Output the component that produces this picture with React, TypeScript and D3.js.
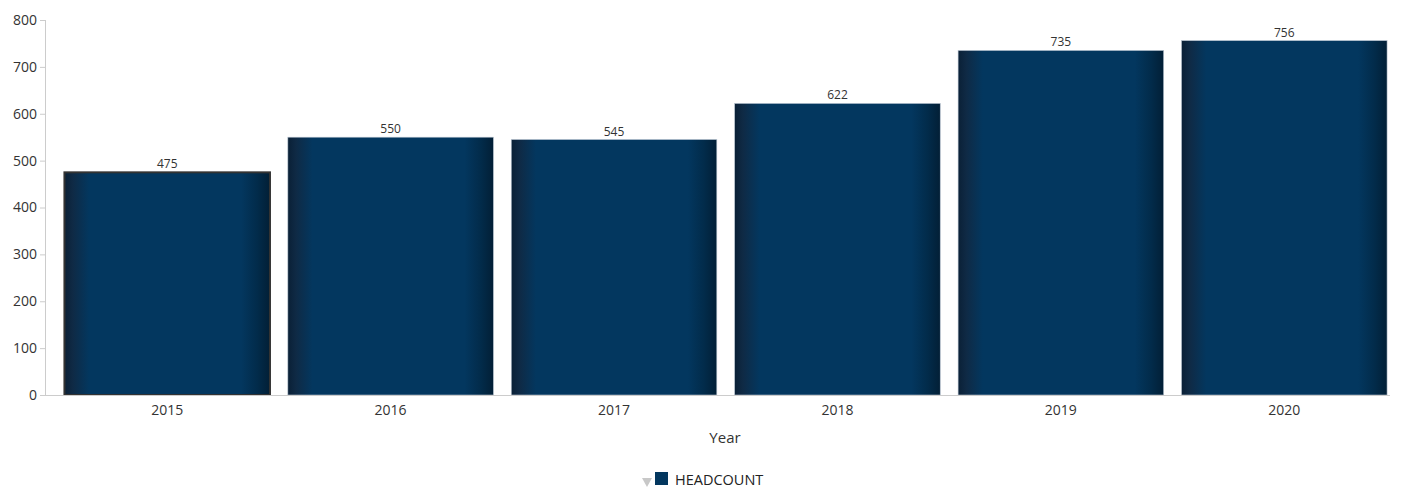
import React from "react";
import * as d3 from "d3";

const years = ["2015", "2016", "2017", "2018", "2019", "2020"];
const headcount = [475, 550, 545, 622, 735, 756];
const yTicks = [0, 100, 200, 300, 400, 500, 600, 700, 800];
const seriesName = "HEADCOUNT";
const xTitle = "Year";

const W = 1407;
const H = 489;

export default function App() {
  const x = d3.scaleBand<string>().domain(years).range([55.5, 1396]).paddingInner(0.08).paddingOuter(0.04);
  const y = d3.scaleLinear().domain([0, 800]).range([395, 20]);
  const font = "'Open Sans', 'Segoe UI', sans-serif";
  return (
    <div style={{ position: "absolute", left: 0, top: 0 }}>
      <svg width={W} height={H} style={{ display: "block", fontFamily: font }}>
        <defs>
          <linearGradient id="barGrad" x1="0" x2="1" y1="0" y2="0">
            <stop offset="0%" stopColor="#0a2036" />
            <stop offset="4%" stopColor="#0f2a45" />
            <stop offset="12%" stopColor="#03375f" />
            <stop offset="86%" stopColor="#03375f" />
            <stop offset="94%" stopColor="#022b4a" />
            <stop offset="100%" stopColor="#021f36" />
          </linearGradient>
        </defs>
        {/* y axis */}
        <line x1={45.5} x2={45.5} y1={y(800)} y2={y(0)} stroke="#cccccc" strokeWidth={1} />
        {yTicks.map((t) => (
          <g key={t}>
            <line x1={40} x2={45} y1={y(t) + 0.5} y2={y(t) + 0.5} stroke="#cccccc" />
            <text x={37} y={y(t)} dy="0.35em" textAnchor="end" fontSize={14} fill="#333">
              {t}
            </text>
          </g>
        ))}
        {/* bars */}
        {years.map((yr, i) => {
          const v = headcount[i];
          const bx = x(yr)!;
          const bw = x.bandwidth();
          const first = i === 0;
          return (
            <g key={yr}>
              <rect
                x={bx}
                y={y(v)}
                width={bw}
                height={y(0) - y(v)}
                fill="url(#barGrad)"
                stroke={first ? "#333333" : "#b7c3d0"}
                strokeWidth={first ? 2 : 0.6}
              />
              <text x={bx + bw / 2} y={y(v) - 4} textAnchor="middle" fontSize={12} fill="#333">
                {v}
              </text>
              <text x={bx + bw / 2} y={415} textAnchor="middle" fontSize={14} fill="#333">
                {yr}
              </text>
            </g>
          );
        })}
        {/* x axis */}
        <line x1={45} x2={1390} y1={395.5} y2={395.5} stroke="#cccccc" strokeWidth={1} />
        <text x={725} y={443} textAnchor="middle" fontSize={15} fill="#333">
          {xTitle}
        </text>
        {/* legend */}
        <path d="M642,478 L652,478 L647,487 Z" fill="#c8c8c8" />
        <rect x={655} y={472} width={13} height={13} fill="#03375f" />
        <text x={675} y={485} fontSize={14.5} fill="#222">
          {seriesName}
        </text>
      </svg>
    </div>
  );
}
